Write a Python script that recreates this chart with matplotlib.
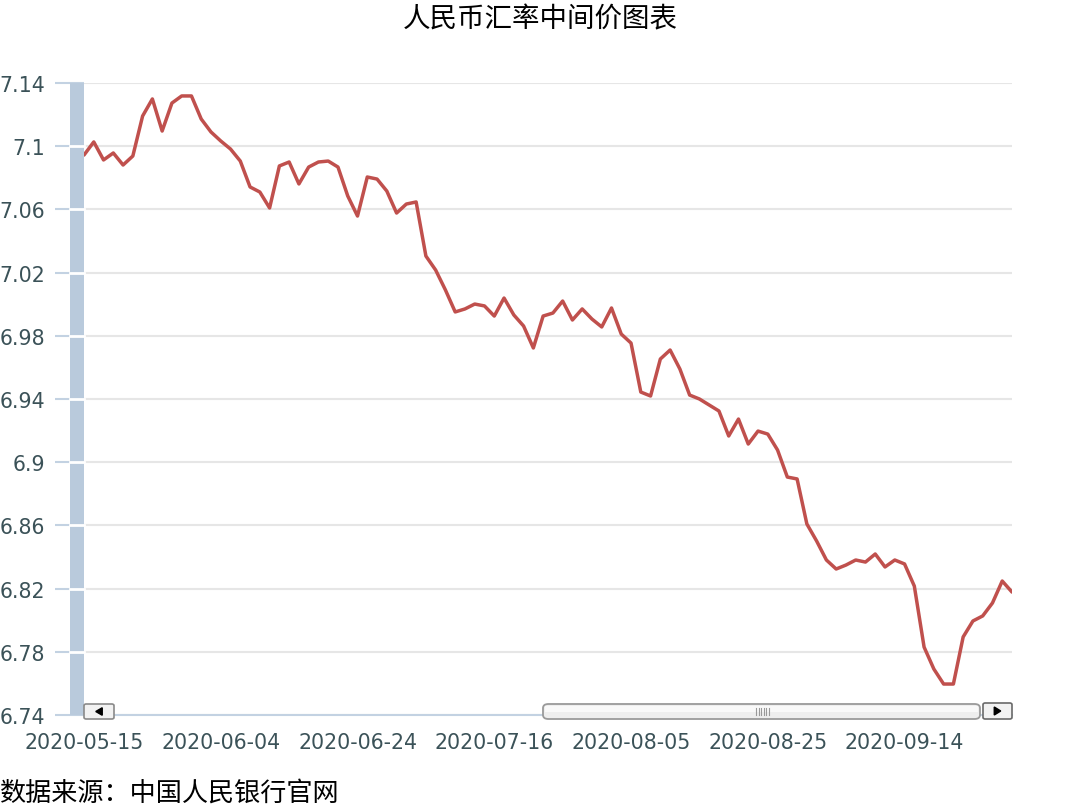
import matplotlib
matplotlib.use('Agg')
import matplotlib.pyplot as plt
from matplotlib.patches import Rectangle, FancyBboxPatch, Polygon
import numpy as np

plt.rcParams['font.family'] = ['DejaVu Sans', 'Noto Sans CJK SC']

# USD/CNY central parity, one value per trading day (2020-05-15 .. 2020-09-29)
rates = [
    7.0944, 7.1027, 7.0913, 7.0957, 7.0881, 7.0938, 7.1191, 7.1299, 7.1096, 7.1273,
    7.1318, 7.1318, 7.1172, 7.1090, 7.1033, 7.0982, 7.0906, 7.0742, 7.0710, 7.0609,
    7.0875, 7.0900, 7.0761, 7.0868, 7.0900, 7.0906, 7.0868, 7.0685, 7.0558, 7.0805,
    7.0792, 7.0716, 7.0577, 7.0634, 7.0647, 7.0305, 7.0216, 7.0090, 6.9951, 6.9970,
    7.0001, 6.9989, 6.9925, 7.0039, 6.9932, 6.9862, 6.9723, 6.9925, 6.9944, 7.0020,
    6.9900, 6.9970, 6.9906, 6.9856, 6.9976, 6.9811, 6.9754, 6.9444, 6.9419, 6.9653,
    6.9710, 6.9590, 6.9425, 6.9400, 6.9362, 6.9324, 6.9166, 6.9273, 6.9115, 6.9197,
    6.9178, 6.9077, 6.8906, 6.8894, 6.8609, 6.8501, 6.8381, 6.8324, 6.8349, 6.8381,
    6.8368, 6.8419, 6.8337, 6.8381, 6.8356, 6.8216, 6.7830, 6.7691, 6.7596, 6.7596,
    6.7894, 6.7995, 6.8027, 6.8109, 6.8248, 6.8178,
]
tick_labels = ['2020-05-15', '2020-06-04', '2020-06-24', '2020-07-16',
               '2020-08-05', '2020-08-25', '2020-09-14']
tick_step = 14  # trading days between labels
y_ticks = [6.74, 6.78, 6.82, 6.86, 6.90, 6.94, 6.98, 7.02, 7.06, 7.10, 7.14]

W, H = 1080, 812
fig = plt.figure(figsize=(W / 100, H / 100), dpi=100)
ax = fig.add_axes([84 / W, 1 - 716 / H, (1012 - 84) / W, (716 - 84) / H])

x = np.arange(len(rates))
ax.plot(x, rates, color='#c0504d', lw=2.5, solid_joinstyle='round',
        solid_capstyle='round', zorder=3)

ax.set_xlim(0, len(rates) - 1)
ax.set_ylim(6.74, 7.14)
ax.set_xticks(np.arange(len(tick_labels)) * tick_step)
ax.set_xticklabels(tick_labels)
ax.set_yticks(y_ticks)
ax.set_yticklabels(['%g' % round(v, 2) for v in y_ticks])

label_color = '#3b5258'
ax.tick_params(axis='y', length=21, width=1.5, color='#c3d2e2', pad=7,
               labelsize=14.8, labelcolor=label_color)
ax.tick_params(axis='x', length=0, pad=12.5, labelsize=14.8, labelcolor=label_color)

ax.grid(axis='y', color='#e6e6e6', lw=1.5)
ax.set_axisbelow(True)
for side in ['top', 'right', 'left']:
    ax.spines[side].set_visible(False)
ax.spines['bottom'].set_color('#c3d2e2')
ax.spines['bottom'].set_linewidth(1.5)

# blue-grey band on the left of the plot area
band_w = 14 / (1012 - 84)
ax.add_patch(Rectangle((-band_w, 0), band_w, 1, transform=ax.transAxes,
                       facecolor='#b9cadc', edgecolor='none', clip_on=False, zorder=4))
for v in y_ticks[1:-1]:
    ax.plot([-band_w, 0], [v, v], color='white', lw=2,
            transform=ax.get_yaxis_transform(), clip_on=False, zorder=5)

# scrollbar widgets under the plot
def px(x0, y0, w, h):
    return x0 / W, 1 - (y0 + h) / H, w / W, h / H

bx, by, bw, bh = px(84, 705, 30, 15)
fig.add_artist(FancyBboxPatch((bx, by), bw, bh, boxstyle='round,pad=0,rounding_size=0.002',
                              transform=fig.transFigure, facecolor='#f2f2f2',
                              edgecolor='#8a8a8a', lw=1.2, zorder=6))
fig.add_artist(Polygon([((bx + bw / 2 + 0.003), by + bh * 0.25),
                        ((bx + bw / 2 + 0.003), by + bh * 0.75),
                        ((bx + bw / 2 - 0.003), by + bh * 0.5)],
                       closed=True, transform=fig.transFigure, color='black', zorder=7))

tx, ty, tw, th = px(543, 705, 437, 15)
fig.add_artist(FancyBboxPatch((tx, ty), tw, th, boxstyle='round,pad=0,rounding_size=0.005',
                              transform=fig.transFigure, facecolor='#eeeeee',
                              edgecolor='#9a9a9a', lw=1.3, zorder=6))
fig.add_artist(Rectangle((tx + 0.002, ty + th * 0.5), tw - 0.004, th * 0.4,
                         transform=fig.transFigure, facecolor='#f9f9f9',
                         edgecolor='none', zorder=6))
for k in range(6):
    gx = (756 + k * 2.5) / W
    fig.add_artist(plt.Line2D([gx, gx], [ty + th * 0.25, ty + th * 0.75], color='#999999',
                              lw=0.8, transform=fig.transFigure, zorder=7))

rx, ry, rw, rh = px(983, 704, 29, 16)
fig.add_artist(FancyBboxPatch((rx, ry), rw, rh, boxstyle='round,pad=0,rounding_size=0.002',
                              transform=fig.transFigure, facecolor='#f2f2f2',
                              edgecolor='#6a6a6a', lw=1.2, zorder=6))
fig.add_artist(Polygon([((rx + rw / 2 - 0.003), ry + rh * 0.25),
                        ((rx + rw / 2 - 0.003), ry + rh * 0.75),
                        ((rx + rw / 2 + 0.003), ry + rh * 0.5)],
                       closed=True, transform=fig.transFigure, color='black', zorder=7))

fig.text(0.5, 1 - 20 / H, '人民币汇率中间价图表', ha='center', va='center',
         fontsize=19.8, family=['Noto Sans CJK SC', 'DejaVu Sans'])
fig.text(0, 1 - 793 / H, '数据来源：中国人民银行官网', ha='left', va='center',
         fontsize=18.8, family=['Noto Sans CJK SC', 'DejaVu Sans'])

fig.savefig('out.png', dpi=100)
